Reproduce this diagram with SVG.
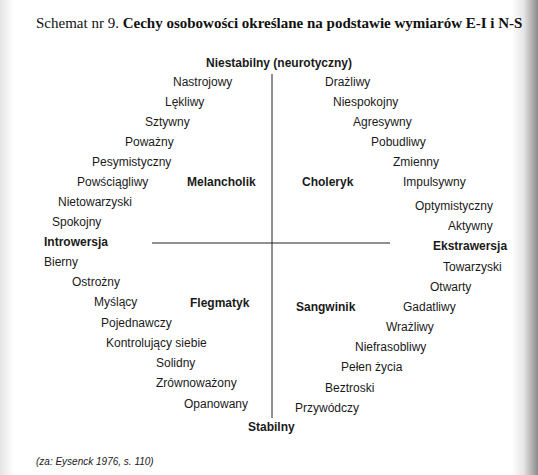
<svg xmlns="http://www.w3.org/2000/svg" width="538" height="475" viewBox="0 0 538 475">
<defs>
<linearGradient id="edgeR" x1="0" y1="0" x2="1" y2="0">
<stop offset="0" stop-color="#ffffff"/>
<stop offset="0.45" stop-color="#e6e6e6"/>
<stop offset="1" stop-color="#8a8a8a"/>
</linearGradient>
<linearGradient id="edgeL" x1="0" y1="0" x2="1" y2="0">
<stop offset="0" stop-color="#e4e4e4"/>
<stop offset="1" stop-color="#ffffff"/>
</linearGradient>
</defs>
<style>
text{font-family:"Liberation Sans",Arial,sans-serif;font-size:12px;fill:#1a1a1a}
.b{font-weight:bold}
.t{font-family:"Liberation Serif","Times New Roman",serif;font-size:15px;fill:#111}
.c{font-style:italic;font-size:10px}
.ax{stroke:#222;stroke-width:1;fill:none}
</style>
<rect width="538" height="475" fill="#fff"/>
<rect x="512" y="0" width="26" height="475" fill="url(#edgeR)"/>
<rect x="0" y="0" width="14" height="475" fill="url(#edgeL)"/>
<g id="title"><text class="t" x="36" y="28">Schemat nr 9. <tspan font-weight="bold">Cechy osobowości określane na podstawie wymiarów E-I i N-S</tspan></text></g>
<g id="connectors">
<line class="ax" x1="272" y1="74" x2="272" y2="418"/>
<line class="ax" x1="152" y1="243" x2="390" y2="243"/>
</g>
<g id="axis-top"><text class="b" x="206" y="67">Niestabilny (neurotyczny)</text></g>
<g id="axis-left"><text class="b" x="44" y="246">Introwersja</text></g>
<g id="axis-right"><text class="b" x="433" y="250">Ekstrawersja</text></g>
<g id="axis-bottom"><text class="b" x="248" y="431">Stabilny</text></g>
<g id="melancholik"><text class="b" x="187" y="186">Melancholik</text></g>
<g id="choleryk"><text class="b" x="302" y="186">Choleryk</text></g>
<g id="flegmatyk"><text class="b" x="190" y="307">Flegmatyk</text></g>
<g id="sangwinik"><text class="b" x="296" y="311">Sangwinik</text></g>
<g id="traits-melancholik">
<text x="173" y="86">Nastrojowy</text>
<text x="165" y="106">Lękliwy</text>
<text x="145" y="126">Sztywny</text>
<text x="125" y="146">Poważny</text>
<text x="92" y="166">Pesymistyczny</text>
<text x="77" y="186">Powściągliwy</text>
<text x="58" y="206">Nietowarzyski</text>
<text x="52" y="226">Spokojny</text>
</g>
<g id="traits-choleryk">
<text x="325" y="86">Drażliwy</text>
<text x="333" y="106">Niespokojny</text>
<text x="353" y="126">Agresywny</text>
<text x="371" y="146">Pobudliwy</text>
<text x="393" y="166">Zmienny</text>
<text x="403" y="186">Impulsywny</text>
<text x="415" y="210">Optymistyczny</text>
<text x="448" y="230">Aktywny</text>
</g>
<g id="traits-flegmatyk">
<text x="44" y="266">Bierny</text>
<text x="72" y="286">Ostrożny</text>
<text x="94" y="306">Myślący</text>
<text x="101" y="327">Pojednawczy</text>
<text x="106" y="347">Kontrolujący siebie</text>
<text x="156" y="367">Solidny</text>
<text x="156" y="387">Zrównoważony</text>
<text x="184" y="408">Opanowany</text>
</g>
<g id="traits-sangwinik">
<text x="443" y="271">Towarzyski</text>
<text x="430" y="291">Otwarty</text>
<text x="403" y="311">Gadatliwy</text>
<text x="386" y="331">Wrażliwy</text>
<text x="355" y="351">Niefrasobliwy</text>
<text x="341" y="371">Pełen życia</text>
<text x="325" y="392">Beztroski</text>
<text x="295" y="412">Przywódczy</text>
</g>
<g id="source"><text class="c" x="36" y="465">(za: Eysenck 1976, s. 110)</text></g>
</svg>
